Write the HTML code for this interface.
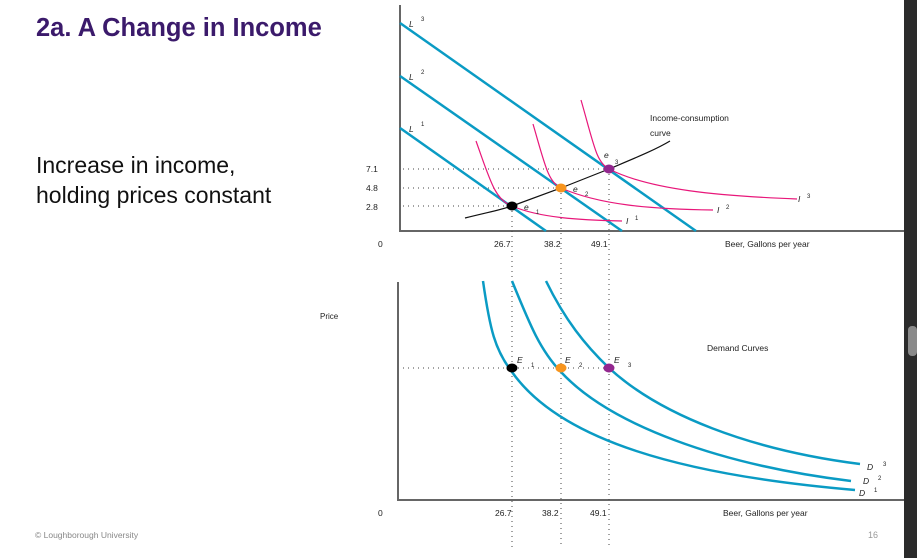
<!DOCTYPE html>
<html><head><meta charset="utf-8"><style>
html,body{margin:0;padding:0;background:#fff;}
body{width:917px;height:558px;overflow:hidden;position:relative;font-family:"Liberation Sans",sans-serif;}
</style></head><body>
<svg width="917" height="558" viewBox="0 0 917 558" xmlns="http://www.w3.org/2000/svg" style="position:absolute;left:0;top:0" font-family="Liberation Sans, sans-serif">
<rect x="904" y="0" width="13" height="558" fill="#2b2b2b"/>
<rect x="908" y="326" width="9" height="30" rx="4" fill="#8a8a8a"/>
<text x="36" y="36" font-size="25.5" font-weight="bold" fill="#3b1a6b">2a. A Change in Income</text>
<text x="36" y="173" font-size="23" fill="#111">Increase in income,</text>
<text x="36" y="203" font-size="23" fill="#111">holding prices constant</text>
<text x="35" y="538" font-size="8.5" fill="#888">© Loughborough University</text>
<text x="868" y="538" font-size="9" fill="#999">16</text>
<text x="320" y="319" font-size="8" fill="#222">Price</text>

<g stroke="#666" stroke-width="2" fill="none">
<path d="M400,5 V231 H904"/>
<path d="M398,282 V500 H904"/>
</g>
<g stroke="#444" stroke-width="1" stroke-dasharray="1,4" fill="none">
<path d="M403,206 H512 M403,188 H561 M403,169 H609"/>
<path d="M512,206 V548 M561,188 V548 M609,169 V548"/>
<path d="M403,368 H609"/>
</g>
<g stroke="#0a9bc4" stroke-width="2.5" fill="none">
<path d="M400,23 L696,231"/>
<path d="M400,76 L622,231"/>
<path d="M400,128 L546,231"/>
</g>
<g stroke="#e8177a" stroke-width="1.2" fill="none">
<path d="M476,141 C490,180 495,200 512,206 C540,218 580,220 622,221"/>
<path d="M533,124 C545,165 548,182 561,188 C600,205 650,209 713,210"/>
<path d="M581,100 C594,145 596,162 609,169 C650,190 720,196 797,199"/>
</g>
<path d="M465,218 C485,213 500,210 512,206 L561,188 L609,169 C635,158 655,150 670,141" stroke="#111" stroke-width="1.2" fill="none"/>
<ellipse cx="512" cy="206" rx="5.5" ry="4.5" fill="#000"/>
<ellipse cx="561" cy="188" rx="5.5" ry="4.5" fill="#f7941d"/>
<ellipse cx="609" cy="169" rx="5.5" ry="4.5" fill="#93278f"/>
<g font-size="8.5" fill="#222">
<text x="409" y="27" font-style="italic">L</text><text x="421" y="21" font-size="6">3</text>
<text x="409" y="80" font-style="italic">L</text><text x="421" y="74" font-size="6">2</text>
<text x="409" y="132" font-style="italic">L</text><text x="421" y="126" font-size="6">1</text>
<text x="650" y="121">Income-consumption</text>
<text x="650" y="136">curve</text>
<text x="524" y="210" font-style="italic">e</text><text x="536" y="214" font-size="6">1</text>
<text x="573" y="192" font-style="italic">e</text><text x="585" y="196" font-size="6">2</text>
<text x="604" y="158" font-style="italic">e</text><text x="615" y="164" font-size="6">3</text>
<text x="626" y="224" font-style="italic">I</text><text x="635" y="220" font-size="6">1</text>
<text x="717" y="213" font-style="italic">I</text><text x="726" y="209" font-size="6">2</text>
<text x="798" y="202" font-style="italic">I</text><text x="807" y="198" font-size="6">3</text>
<text x="366" y="172">7.1</text><text x="366" y="191">4.8</text><text x="366" y="210">2.8</text>
<text x="378" y="247">0</text>
<text x="494" y="247">26.7</text><text x="544" y="247">38.2</text><text x="591" y="247">49.1</text>
<text x="725" y="247">Beer, Gallons per year</text>
<text x="378" y="516">0</text>
<text x="495" y="516">26.7</text><text x="542" y="516">38.2</text><text x="590" y="516">49.1</text>
<text x="723" y="516">Beer, Gallons per year</text>
<text x="707" y="351">Demand Curves</text>
<text x="517" y="363" font-style="italic">E</text><text x="531" y="367" font-size="6">1</text>
<text x="565" y="363" font-style="italic">E</text><text x="579" y="367" font-size="6">2</text>
<text x="614" y="363" font-style="italic">E</text><text x="628" y="367" font-size="6">3</text>
<text x="867" y="470" font-style="italic">D</text><text x="883" y="466" font-size="6">3</text>
<text x="863" y="484" font-style="italic">D</text><text x="878" y="480" font-size="6">2</text>
<text x="859" y="496" font-style="italic">D</text><text x="874" y="492" font-size="6">1</text>
</g>
<g stroke="#0a9bc4" stroke-width="2.5" fill="none">
<path d="M483,281 C490,330 495,350 512,372 C560,440 680,475 855,490"/>
<path d="M512,281 C530,325 540,350 561,372 C610,425 720,465 851,481"/>
<path d="M546,281 C565,320 585,345 609,368 C660,415 750,450 860,464"/>
</g>
<ellipse cx="512" cy="368" rx="5.5" ry="4.5" fill="#000"/>
<ellipse cx="561" cy="368" rx="5.5" ry="4.5" fill="#f7941d"/>
<ellipse cx="609" cy="368" rx="5.5" ry="4.5" fill="#93278f"/>
</svg>
</body></html>
